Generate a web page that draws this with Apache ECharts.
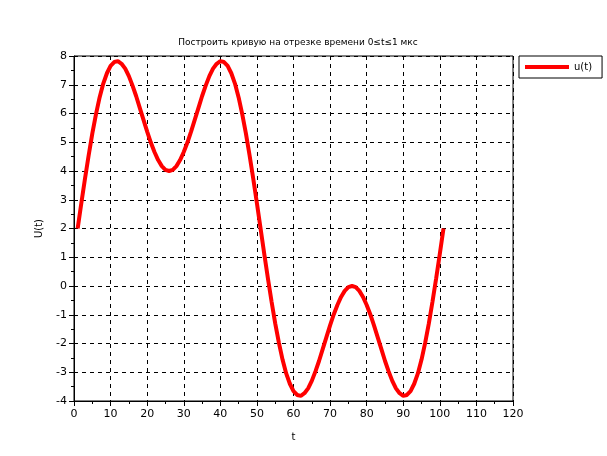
<!DOCTYPE html>
<html><head><meta charset="utf-8">
<script src="https://cdn.jsdelivr.net/npm/echarts@6/dist/echarts.min.js"></script>
<style>html,body{margin:0;padding:0;background:#fff}#c{width:607px;height:456px}</style>
</head><body><div id="c"></div>
<script>
const titleText = 'Построить кривую на отрезке времени 0≤t≤1 мкс';
const xName = 't';
const yName = 'U(t)';
const seriesName = 'u(t)';
const tIndex = [];
for (let i = 1; i <= 101; i++) tIndex.push(i);
const uValues = [
 2.00, 2.88, 3.73, 4.54, 5.30, 5.97, 6.56, 7.04, 7.40, 7.66,
 7.79, 7.82, 7.73, 7.56, 7.30, 6.97, 6.60, 6.19, 5.78, 5.37,
 4.99, 4.66, 4.38, 4.17, 4.04, 4.00, 4.04, 4.17, 4.38, 4.66,
 4.99, 5.37, 5.78, 6.19, 6.60, 6.97, 7.30, 7.56, 7.73, 7.82,
 7.79, 7.66, 7.40, 7.04, 6.56, 5.97, 5.30, 4.54, 3.73, 2.88,
 2.00, 1.12, 0.27, -0.54, -1.30, -1.97, -2.56, -3.04, -3.40, -3.66,
 -3.79, -3.82, -3.73, -3.56, -3.30, -2.97, -2.60, -2.19, -1.78, -1.37,
 -0.99, -0.66, -0.38, -0.17, -0.04, 0.00, -0.04, -0.17, -0.38, -0.66,
 -0.99, -1.37, -1.78, -2.19, -2.60, -2.97, -3.30, -3.56, -3.73, -3.82,
 -3.79, -3.66, -3.40, -3.04, -2.56, -1.97, -1.30, -0.54, 0.27, 1.12,
 2.00
];
const xMin = 0, xMax = 120, xStep = 10;
const yMin = -4, yMax = 8, yStep = 1;

const font = 'DejaVu Sans';
const chart = echarts.init(document.getElementById('c'), null, {renderer: 'canvas'});
const axisCommon = {
  axisLine: {show: true, onZero: false, lineStyle: {color: '#000', width: 1}},
  axisTick: {show: true, inside: false, length: 5, lineStyle: {color: '#000'}},
  minorTick: {show: true, splitNumber: 2, length: 3, lineStyle: {color: '#000'}},
  splitLine: {show: true, lineStyle: {color: '#000', type: [4, 4], width: 1}},
  axisLabel: {color: '#000', fontFamily: font, fontSize: 11},
  nameLocation: 'middle',
  nameTextStyle: {color: '#000', fontFamily: font, fontSize: 10}
};
chart.setOption({
  animation: false,
  backgroundColor: '#fff',
  title: {text: titleText, left: 293, textAlign: 'center', top: 33,
    textStyle: {fontFamily: font, fontSize: 9, fontWeight: 'normal', color: '#000'}},
  legend: {show: true, left: 519, top: 56, orient: 'vertical',
    data: [{name: seriesName, icon: 'rect'}],
    itemWidth: 44, itemHeight: 4, itemGap: 0,
    padding: [6, 10, 6, 6], borderColor: '#000', borderWidth: 1,
    textStyle: {fontFamily: font, fontSize: 10, color: '#000'}},
  grid: {left: 74, right: 94, top: 56, bottom: 55, show: true, borderColor: '#000', borderWidth: 1, containLabel: false},
  xAxis: Object.assign({}, axisCommon, {type: 'value', min: xMin, max: xMax, interval: xStep, name: xName, nameGap: 31,
    axisLabel: Object.assign({}, axisCommon.axisLabel, {margin: 8})}),
  yAxis: Object.assign({}, axisCommon, {type: 'value', min: yMin, max: yMax, interval: yStep, name: yName, nameGap: 30,
    axisLabel: Object.assign({}, axisCommon.axisLabel, {margin: 7})}),
  series: [{
    name: seriesName, type: 'line', showSymbol: false, symbol: 'none',
    data: tIndex.map((t, i) => [t, uValues[i]]),
    lineStyle: {color: '#ff0000', width: 4},
    itemStyle: {color: '#ff0000'}
  }]
});
</script></body></html>
